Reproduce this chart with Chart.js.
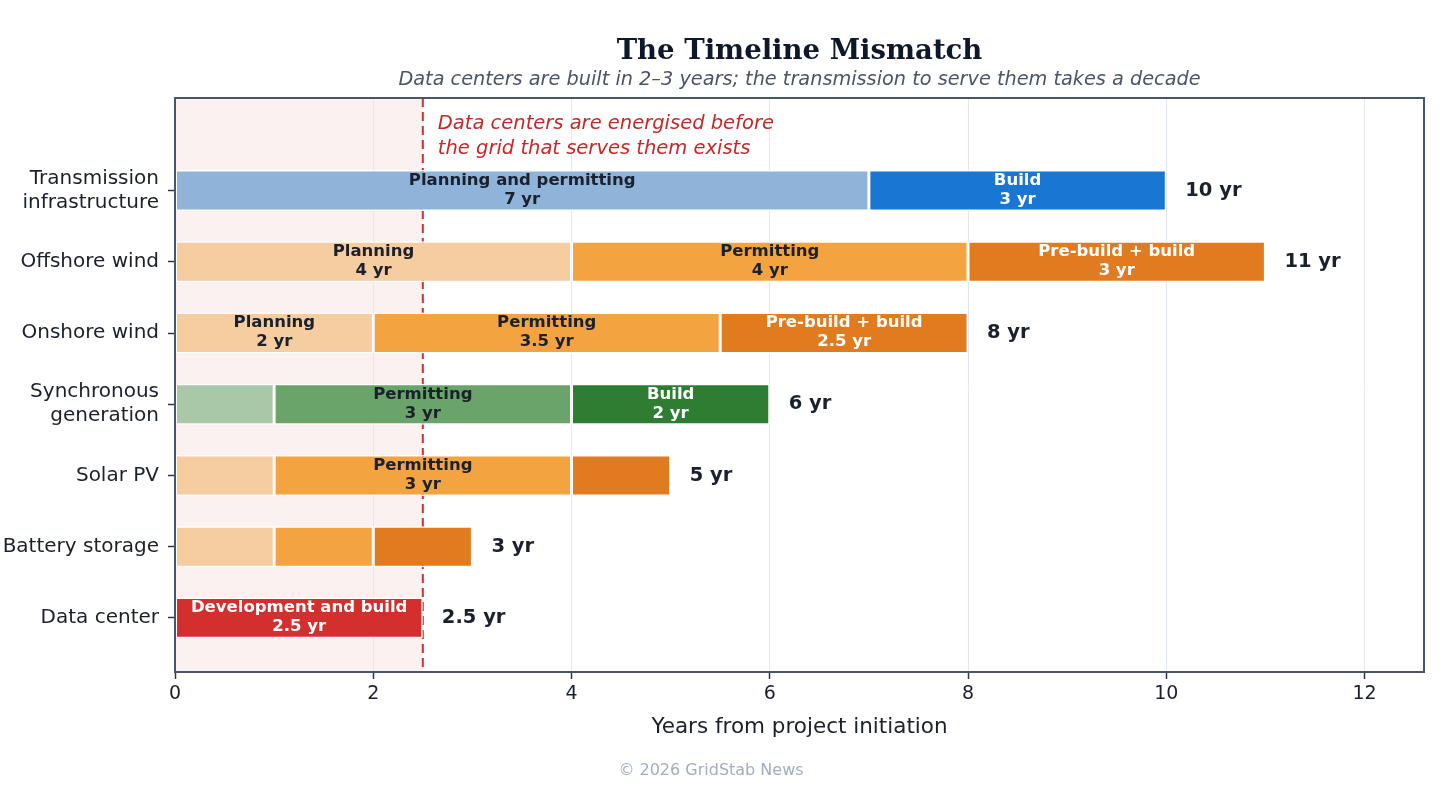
<!DOCTYPE html>
<html>
<head>
<meta charset="utf-8">
<script src="https://cdn.jsdelivr.net/npm/chart.js@4/dist/chart.umd.min.js"></script>
<style>
  html, body { margin: 0; padding: 0; background: #ffffff; }
  #wrap { width: 1456px; height: 785px; }
</style>
</head>
<body>
<div id="wrap"><canvas id="timeline" width="1456" height="785"></canvas></div>
<script>
// categories, top to bottom
var categories = [
    ["Transmission", "infrastructure"],
    "Offshore wind",
    "Onshore wind",
    ["Synchronous", "generation"],
    "Solar PV",
    "Battery storage",
    "Data center"
];

// years per phase
var phase1Years = [7, 4, 2, 1, 1, 1, 2.5];
var phase2Years = [3, 4, 3.5, 3, 3, 1, null];
var phase3Years = [null, 3, 2.5, 2, 1, 1, null];

// phase names written on the bars ('' = no label)
var phase1Labels = ["Planning and permitting", "Planning", "Planning", "", "", "", "Development and build"];
var phase2Labels = ["Build", "Permitting", "Permitting", "Permitting", "Permitting", "", ""];
var phase3Labels = ["", "Pre-build + build", "Pre-build + build", "Build", "", "", ""];

var totalYears = [10, 11, 8, 6, 5, 3, 2.5];
var xTicks = [0, 2, 4, 6, 8, 10, 12];
var dataCenterYears = 2.5;

// colours
var phase1Colors = ["#8fb3d9", "#f5cda0", "#f5cda0", "#a8c8a8", "#f5cda0", "#f5cda0", "#d32f2f"];
var phase2Colors = ["#1976d2", "#f4a341", "#f4a341", "#6aa46a", "#f4a341", "#f4a341", "#f4a341"];
var phase3Colors = ["#e07b20", "#e07b20", "#e07b20", "#2e7d32", "#e07b20", "#e07b20", "#e07b20"];
var darkText = "#1a202c";
var phase1Text = [darkText, darkText, darkText, darkText, darkText, darkText, "#ffffff"];
var phase2Text = ["#ffffff", darkText, darkText, darkText, darkText, darkText, darkText];
var phase3Text = ["#ffffff", "#ffffff", "#ffffff", "#ffffff", "#ffffff", "#ffffff", "#ffffff"];

var n = categories.length;
function rowY(i) { return n - 1 - i; }

// floating bars [start, end], only where the phase exists
function floating(starts, years) {
    var out = [];
    for (var i = 0; i < n; i++) {
        if (years[i] == null) continue;
        out.push({ x: [starts[i], starts[i] + years[i]], y: rowY(i), row: i });
    }
    return out;
}

var start1 = phase1Years.map(function () { return 0; });
var start2 = phase1Years.slice();
var start3 = phase1Years.map(function (v, i) { return v + (phase2Years[i] || 0); });

function makeSet(name, starts, years, colors, labels, textColors) {
    return {
        label: name,
        data: floating(starts, years),
        backgroundColor: function (c) { return c.raw ? colors[c.raw.row] : colors[0]; },
        borderColor: "#ffffff",
        borderWidth: 1.5,
        borderSkipped: false,
        grouped: false,
        categoryPercentage: 1,
        barPercentage: 0.575,
        segLabels: labels,
        segYears: years,
        segText: textColors
    };
}

var FONT = "'DejaVu Sans', sans-serif";

var decor = {
    id: "decor",
    beforeDraw: function (chart) {
        var c = chart.ctx, a = chart.chartArea, x = chart.scales.x;
        c.save();
        c.fillStyle = "#fcf1f1";
        c.fillRect(a.left, a.top, x.getPixelForValue(dataCenterYears) - a.left, a.bottom - a.top);
        c.restore();
    },
    beforeDatasetsDraw: function (chart) {
        var c = chart.ctx, a = chart.chartArea, x = chart.scales.x;
        var px = x.getPixelForValue(dataCenterYears);
        c.save();
        c.strokeStyle = "#d32f2f";
        c.lineWidth = 2;
        c.setLineDash([9, 5]);
        c.beginPath();
        c.moveTo(px, a.top);
        c.lineTo(px, a.bottom);
        c.stroke();
        c.restore();
    },
    afterDatasetsDraw: function (chart) {
        var c = chart.ctx, a = chart.chartArea, x = chart.scales.x, y = chart.scales.y;
        c.save();
        // labels inside the segments
        c.textAlign = "center";
        c.textBaseline = "middle";
        c.font = "bold 16.5px " + FONT;
        chart.data.datasets.forEach(function (ds, di) {
            var meta = chart.getDatasetMeta(di);
            meta.data.forEach(function (bar, k) {
                var i = ds.data[k].row;
                if (!ds.segLabels[i]) return;
                var cx = (bar.x + bar.base) / 2;
                c.fillStyle = ds.segText[i];
                c.fillText(ds.segLabels[i], cx, bar.y - 10);
                c.fillText(ds.segYears[i] + " yr", cx, bar.y + 9);
            });
        });
        // totals
        c.textAlign = "left";
        c.font = "bold 19.5px " + FONT;
        c.fillStyle = darkText;
        for (var i = 0; i < n; i++) {
            c.fillText(totalYears[i] + " yr", x.getPixelForValue(totalYears[i]) + 19, y.getPixelForValue(rowY(i)));
        }
        // annotation
        var px = x.getPixelForValue(dataCenterYears);
        c.font = "italic 19.5px " + FONT;
        c.fillStyle = "#c62828";
        c.fillText("Data centers are energised before", px + 15, a.top + 26);
        c.fillText("the grid that serves them exists", px + 15, a.top + 51);
        c.restore();
    },
    afterDraw: function (chart) {
        var c = chart.ctx, a = chart.chartArea;
        c.save();
        c.strokeStyle = "#4a5568";
        c.lineWidth = 2;
        c.strokeRect(a.left, a.top, a.right - a.left, a.bottom - a.top);
        var mid = (a.left + a.right) / 2;
        c.textAlign = "center";
        c.textBaseline = "middle";
        c.fillStyle = "#0f172a";
        c.font = "bold 27.5px 'DejaVu Serif', serif";
        c.fillText("The Timeline Mismatch", mid, 52);
        c.fillStyle = "#4a5568";
        c.font = "italic 19.3px " + FONT;
        c.fillText("Data centers are built in 2\u20133 years; the transmission to serve them takes a decade", mid, 80);
        c.fillStyle = darkText;
        c.font = "21.5px " + FONT;
        c.fillText("Years from project initiation", mid, 727);
        c.fillStyle = "#a0aec0";
        c.font = "16px " + FONT;
        c.fillText("\u00a9 2026 GridStab News", 711, 771);
        c.restore();
    }
};

var ctx = document.getElementById("timeline").getContext("2d");
var timelineChart = new Chart(ctx, {
    type: "bar",
    data: {
        datasets: [
            makeSet("Phase 1", start1, phase1Years, phase1Colors, phase1Labels, phase1Text),
            makeSet("Phase 2", start2, phase2Years, phase2Colors, phase2Labels, phase2Text),
            makeSet("Phase 3", start3, phase3Years, phase3Colors, phase3Labels, phase3Text)
        ]
    },
    options: {
        indexAxis: "y",
        responsive: false,
        animation: false,
        layout: { padding: { top: 98, right: 32, left: 0, bottom: 0 } },
        plugins: {
            legend: { display: false },
            title: { display: false },
            tooltip: { enabled: false }
        },
        scales: {
            x: {
                type: "linear",
                min: 0,
                max: 12.6,
                afterBuildTicks: function (scale) {
                    scale.ticks = xTicks.map(function (v) { return { value: v }; });
                },
                afterFit: function (scale) { scale.height = 113; },
                grid: { color: "#e2e8f0", lineWidth: 1, tickColor: "#2d3748", tickWidth: 1.5, tickLength: 7 },
                border: { display: true, color: "#4a5568", width: 2 },
                ticks: { color: darkText, font: { family: FONT, size: 19 }, padding: 4, maxRotation: 0 }
            },
            y: {
                type: "linear",
                min: -0.76,
                max: 7.3,
                offset: false,
                afterBuildTicks: function (scale) {
                    scale.ticks = categories.map(function (c, i) { return { value: rowY(i) }; });
                },
                afterFit: function (scale) { scale.width = 175; },
                grid: { drawOnChartArea: false, offset: false, tickColor: "#2d3748", tickWidth: 1.5, tickLength: 7 },
                border: { display: true, color: "#4a5568", width: 2 },
                ticks: {
                    color: darkText,
                    font: { family: FONT, size: 20 },
                    padding: 9,
                    callback: function (v) { return categories[n - 1 - v]; }
                }
            }
        }
    },
    plugins: [decor]
});
</script>
</body>
</html>
